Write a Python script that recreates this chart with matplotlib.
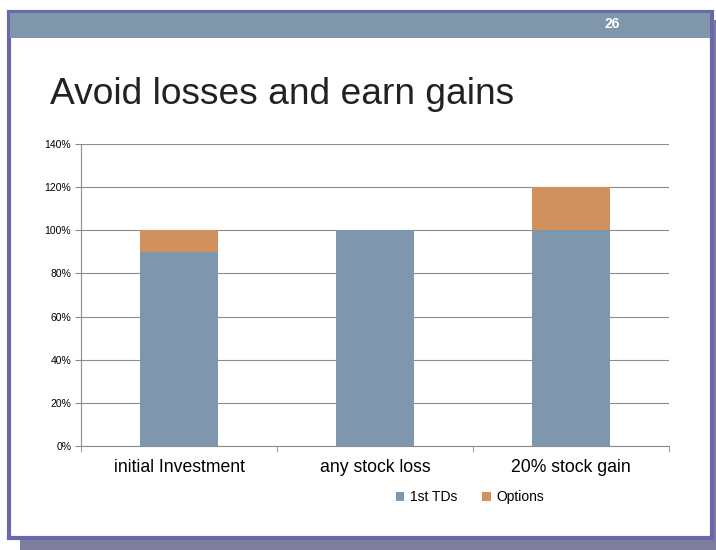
import matplotlib
matplotlib.use("Agg")
import matplotlib.pyplot as plt
from matplotlib.patches import Rectangle
import numpy as np

categories = ["initial Investment", "any stock loss", "20% stock gain"]
series_names = ["1st TDs", "Options"]
tds = [90, 100, 100]
options = [10, 0, 20]
yticks = [0, 20, 40, 60, 80, 100, 120, 140]
title = "Avoid losses and earn gains"
page = "26"

W, H = 716, 550
fig = plt.figure(figsize=(W/100, H/100), dpi=100)
fig.patch.set_facecolor("white")

def fr(x, y, w, h, **kw):
    fig.patches.append(Rectangle((x/W, 1-(y+h)/H), w/W, h/H, transform=fig.transFigure, **kw))

# shadow
fr(20, 539, 696, 11, facecolor="#7E7E9C", edgecolor="none", zorder=0)
fr(712, 20, 4, 530, facecolor="#7E7E9C", edgecolor="none", zorder=0)
# slide border
fr(8.5, 11.5, 703, 526, facecolor="white", edgecolor="#6A68AA", linewidth=3, zorder=1)
# header band
fr(10, 13, 700, 25, facecolor="#7F96AB", edgecolor="none", zorder=2)
fig.text(612/W, 1-24/H, page, color="white", fontsize=10, fontweight="bold",
         family="Liberation Sans", ha="center", va="center", zorder=3)
fig.text(50/W, 1-94/H, title, color="#222222", fontsize=26.7, family="Liberation Sans",
         ha="left", va="center", zorder=3)

ax = fig.add_axes([81/W, 1-446/H, 588/W, 302/H], zorder=4)
ax.set_facecolor("none")
x = np.arange(len(categories))
bw = 0.4
ax.bar(x, tds, bw, color="#7F97AD", label=series_names[0], zorder=3)
ax.bar(x, options, bw, bottom=tds, color="#D0915F", label=series_names[1], zorder=3)
ax.set_xlim(-0.5, 2.5)
ax.set_ylim(0, 140)
ax.set_yticks(yticks)
ax.set_yticklabels([f"{v}%" for v in yticks], fontsize=7.5, family="Liberation Sans")
ax.yaxis.grid(True, color="#8C8C8C", linewidth=0.8, zorder=0)
ax.set_xticks(x)
ax.set_xticklabels(categories, fontsize=12.7, family="Liberation Sans")
ax.set_xticks([-0.5, 0.5, 1.5, 2.5], minor=True)
ax.tick_params(axis="x", which="major", length=0, pad=9.5)
ax.tick_params(axis="x", which="minor", length=4, color="#8C8C8C")
ax.tick_params(axis="y", length=4, color="#8C8C8C", pad=3)
for s in ["top", "right"]:
    ax.spines[s].set_visible(False)
for s in ["left", "bottom"]:
    ax.spines[s].set_color("#8C8C8C")
    ax.spines[s].set_linewidth(0.8)

leg = fig.legend(loc="center", bbox_to_anchor=(470/W, 1-497/H), ncol=2, frameon=False,
                 prop={"family": "Liberation Sans", "size": 10}, handlelength=0.6,
                 handleheight=0.6, handletextpad=0.4, columnspacing=1.8)
fig.savefig("out.png", dpi=100)
